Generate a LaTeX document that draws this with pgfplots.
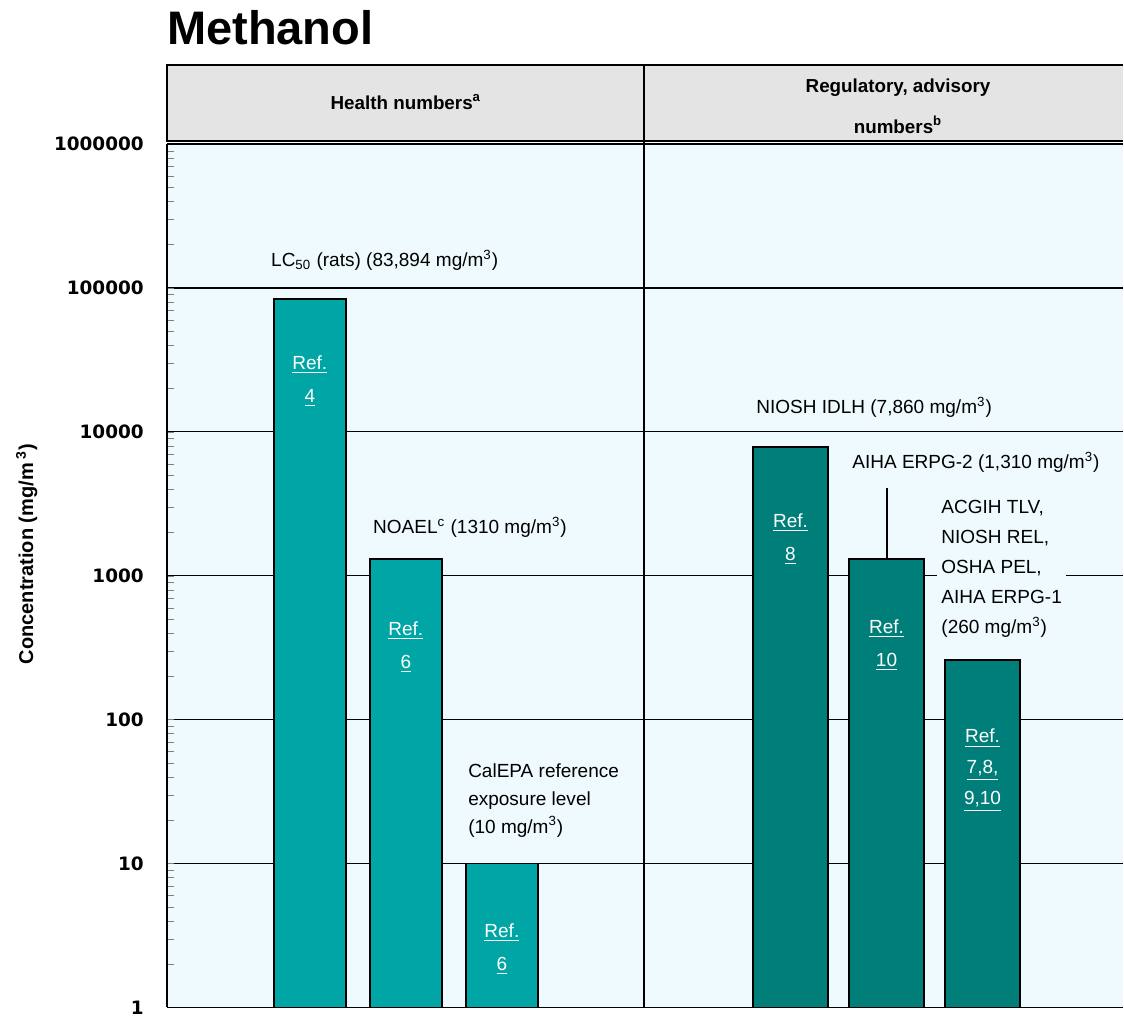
\documentclass[border=0pt]{standalone}
\usepackage{pgfplots}
\pgfplotsset{compat=1.18}
\usepackage{fontspec}
\setmainfont{Liberation Sans}
\newfontfamily\tickfont{DejaVu Sans}
\definecolor{bgcyan}{RGB}{238,250,253}
\definecolor{hdrgray}{RGB}{228,228,228}
\definecolor{tealA}{RGB}{0,165,165}
\definecolor{tealB}{RGB}{0,127,122}
\begin{document}
\begin{tikzpicture}
\begin{axis}[
  width=478pt, height=431.5pt, scale only axis,
  xmin=168, xmax=1124, ymin=1, ymax=1000000, ymode=log,
  axis x line*=box, axis y line*=left,
  xtick=\empty,
  ytick={1,10,100,1000,10000,100000,1000000},
  yticklabels={1,10,100,1000,10000,100000,1000000},
  yticklabel style={font=\tickfont\bfseries\fontsize{9.2}{11}\selectfont, xshift=-8pt},
  tick align=inside, major tick length=0pt, minor tick length=3.5pt,
  ymajorgrids, grid style={black, line width=0.6pt},
  axis line style={black, line width=0.9pt},
  axis background/.style={fill=bgcyan},
  clip=false,
  ylabel={Concentration (mg/m\,\textsuperscript{3})},
  every axis y label/.style={at={(rel axis cs:0,0.525)}, xshift=-70pt, rotate=90, anchor=center, font=\bfseries\fontsize{10}{12}\selectfont},
]
% header band
\fill[hdrgray] (axis cs:168,1050000) rectangle (axis cs:1124,3540000);
\draw[black, line width=0.9pt] (axis cs:1124,3540000) -- (axis cs:168,3540000) -- (axis cs:168,1050000) -- (axis cs:1124,1050000);
\draw[black, line width=0.9pt] (axis cs:645,1) -- (axis cs:645,3540000);
\node[font=\bfseries\fontsize{9.4}{12}\selectfont] at (axis cs:407,1960000) {Health numbers\textsuperscript{a}};
\node[font=\bfseries\fontsize{9.4}{20.5}\selectfont, align=center] at (axis cs:899,1840000) {Regulatory, advisory\\numbers\textsuperscript{b}};
\node[anchor=base west, inner sep=0pt, font=\bfseries\fontsize{23.5}{27}\selectfont] at (axis cs:168,4960000) {Methanol};

\addplot[ybar, bar shift=0pt, bar width=72, fill=tealA, draw=black, line width=0.9pt]
  coordinates {(311,83894) (407,1310) (503,10)};
\addplot[ybar, bar shift=0pt, bar width=75, fill=tealB, draw=black, line width=0.9pt]
  coordinates {(791.5,7860) (887.5,1310) (983.5,260)};

% labels above bars
\tikzset{lbl/.style={anchor=west, inner sep=2pt, font=\fontsize{9.5}{14.5}\selectfont, align=left}}
\node[lbl] at (axis cs:268,156000) {LC\textsubscript{50} (rats) (83,894 mg/m\textsuperscript{3})};
\node[lbl] at (axis cs:370,2175) {NOAEL\textsuperscript{c} (1310 mg/m\textsuperscript{3})};
\node[lbl, font=\fontsize{9.5}{14}\selectfont] at (axis cs:465,27.5) {CalEPA reference\\exposure level\\(10 mg/m\textsuperscript{3})};
\node[lbl] at (axis cs:753,14850) {NIOSH IDLH (7,860 mg/m\textsuperscript{3})};
\node[lbl] at (axis cs:849,6155) {AIHA ERPG-2 (1,310 mg/m\textsuperscript{3})};
\draw[black, line width=0.6pt] (axis cs:888,4057) -- (axis cs:888,1310);
\node[lbl, fill=bgcyan, font=\fontsize{9.5}{15}\selectfont] at (axis cs:938,1110) {ACGIH TLV,\\NIOSH REL,\\OSHA PEL,\\AIHA ERPG-1\\(260 mg/m\textsuperscript{3})};

% references inside bars
\tikzset{ref/.style={text=white, align=center, font=\fontsize{9.5}{16.5}\selectfont}}
\node[ref] at (axis cs:311,22500) {\underline{Ref.}\\\underline{4}};
\node[ref] at (axis cs:407,318) {\underline{Ref.}\\\underline{6}};
\node[ref] at (axis cs:503,2.53) {\underline{Ref.}\\\underline{6}};
\node[ref] at (axis cs:791.5,1794) {\underline{Ref.}\\\underline{8}};
\node[ref] at (axis cs:887.5,329) {\underline{Ref.}\\\underline{10}};
\node[ref, font=\fontsize{9.5}{15.5}\selectfont] at (axis cs:983.5,44.5) {\underline{Ref.}\\\underline{7,8,}\\\underline{9,10}};
\end{axis}
\path ([xshift=-4.7pt, yshift=5pt]current bounding box.north west);
\end{tikzpicture}
\end{document}
